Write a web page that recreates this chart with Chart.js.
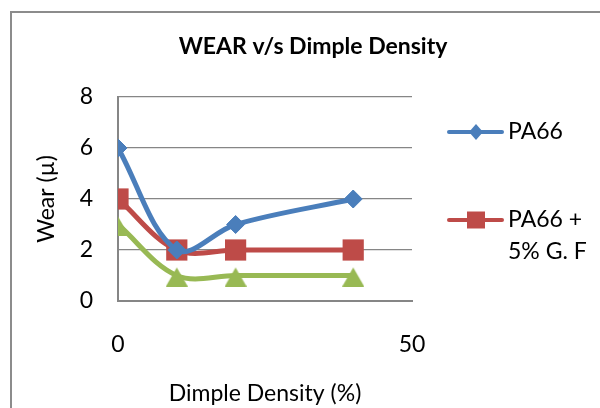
<!DOCTYPE html>
<html>
<head>
<meta charset="utf-8">
<script src="https://cdn.jsdelivr.net/npm/chart.js@4/dist/chart.umd.min.js"></script>
<style>
  html, body { margin: 0; padding: 0; background: #ffffff; }
  #wrap { width: 600px; height: 408px; }
</style>
</head>
<body>
<div id="wrap"><canvas id="chart" width="600" height="408"></canvas></div>
<script>
// Dimple density (%) on the x axis
const dimpleDensity = [0, 10, 20, 40];
// Wear (µ) per material
const wearPA66 = [6, 2, 3, 4];
const wearPA66GF5 = [4, 2, 2, 2];
const wearThird = [3, 1, 1, 1];

const seriesLabels = ['PA66', 'PA66 + 5% G. F', 'PA66 + 10% G. F'];
const legendLines = [['PA66'], ['PA66 +', '5% G. F']];
const chartTitle = 'WEAR v/s Dimple Density';
const xTitle = 'Dimple Density (%)';
const yTitle = 'Wear (\u00b5)';

const FONT = 'Lato, "Open Sans", sans-serif';
const TXT = 23;
const BLUE = '#4a7ebb';
const RED = '#be4b48';
const GREEN = '#98b954';
const GRID = '#868686';

function pts(ys) { return dimpleDensity.map((x, i) => ({ x: x, y: ys[i] })); }

// triangle marker sitting slightly low in its box
function triangleMarker(color, w, h, top) {
  const c = document.createElement('canvas');
  c.width = w; c.height = h;
  const g = c.getContext('2d');
  g.fillStyle = color;
  g.beginPath();
  g.moveTo(w / 2, top);
  g.lineTo(w, h);
  g.lineTo(0, h);
  g.closePath();
  g.fill();
  return c;
}
const triMarker = triangleMarker(GREEN, 22, 22, 3);

// frame, title and legend
const decorPlugin = {
  id: 'decor',
  beforeDraw(chart) {
    const ctx = chart.ctx;
    ctx.save();
    ctx.strokeStyle = '#8c8c8c';
    ctx.lineWidth = 2;
    ctx.strokeRect(11, 12, 800, 800);
    ctx.restore();
  },
  afterDraw(chart) {
    const ctx = chart.ctx;
    ctx.save();
    ctx.fillStyle = '#000';
    ctx.textBaseline = 'middle';
    ctx.textAlign = 'center';
    ctx.font = 'bold 23px ' + FONT;
    ctx.fillText(chartTitle, 313, 47);

    // legend entries
    const entries = [
      { color: BLUE, shape: 'diamond', y: 132 },
      { color: RED, shape: 'square', y: 220 }
    ];
    ctx.font = TXT + 'px ' + FONT;
    ctx.textAlign = 'left';
    entries.forEach((e, i) => {
      ctx.strokeStyle = e.color;
      ctx.fillStyle = e.color;
      ctx.lineWidth = 4;
      ctx.lineCap = 'round';
      ctx.beginPath();
      ctx.moveTo(449, e.y);
      ctx.lineTo(502, e.y);
      ctx.stroke();
      const cx = 476;
      ctx.beginPath();
      if (e.shape === 'diamond') {
        ctx.moveTo(cx - 7, e.y); ctx.lineTo(cx, e.y - 8);
        ctx.lineTo(cx + 7, e.y); ctx.lineTo(cx, e.y + 8);
      } else {
        ctx.rect(cx - 9, e.y - 8.5, 18, 17);
      }
      ctx.closePath();
      ctx.fill();
      ctx.fillStyle = '#000';
      legendLines[i].forEach((t, j) => ctx.fillText(t, 508, e.y + j * 32));
    });
    ctx.restore();
  }
};

new Chart(document.getElementById('chart'), {
  type: 'line',
  data: {
    datasets: [
      {
        label: seriesLabels[0], data: pts(wearPA66),
        borderColor: BLUE, backgroundColor: BLUE, borderWidth: 5,
        pointStyle: 'rectRot', pointRadius: 9, pointBorderWidth: 1,
        pointBorderColor: BLUE, pointBackgroundColor: BLUE, tension: 0.35
      },
      {
        label: seriesLabels[1], data: pts(wearPA66GF5),
        borderColor: RED, backgroundColor: RED, borderWidth: 5,
        pointStyle: 'rect', pointRadius: 15, pointBorderWidth: 0,
        pointBackgroundColor: RED, tension: 0.35
      },
      {
        label: seriesLabels[2], data: pts(wearThird),
        borderColor: GREEN, backgroundColor: GREEN, borderWidth: 5,
        pointStyle: triMarker, pointRadius: 11, tension: 0.35
      }
    ]
  },
  options: {
    responsive: false,
    animation: false,
    events: [],
    layout: { padding: { top: 97, right: 188, left: 0, bottom: 0 } },
    plugins: { legend: { display: false }, title: { display: false }, tooltip: { enabled: false } },
    scales: {
      x: {
        type: 'linear', min: 0, max: 50,
        ticks: { stepSize: 50, padding: 30, color: '#000', font: { family: FONT, size: TXT } },
        grid: { display: true, color: 'rgba(0,0,0,0)', drawTicks: false },
        border: { display: true, color: GRID, width: 2 },
        title: { display: true, text: xTitle, color: '#000', font: { family: FONT, size: TXT }, padding: { top: 0, bottom: 1 } },
        afterFit(s) { s.height = 107; }
      },
      y: {
        type: 'linear', min: 0, max: 8,
        ticks: { stepSize: 2, padding: 25, color: '#000', font: { family: FONT, size: TXT } },
        grid: { color: GRID, lineWidth: 1.3, drawTicks: false },
        border: { display: true, color: GRID, width: 2 },
        title: { display: true, text: yTitle, color: '#000', font: { family: FONT, size: TXT }, padding: { top: 33, bottom: 0 } },
        afterFit(s) { s.width = 118; }
      }
    }
  },
  plugins: [decorPlugin]
});
</script>
</body>
</html>
